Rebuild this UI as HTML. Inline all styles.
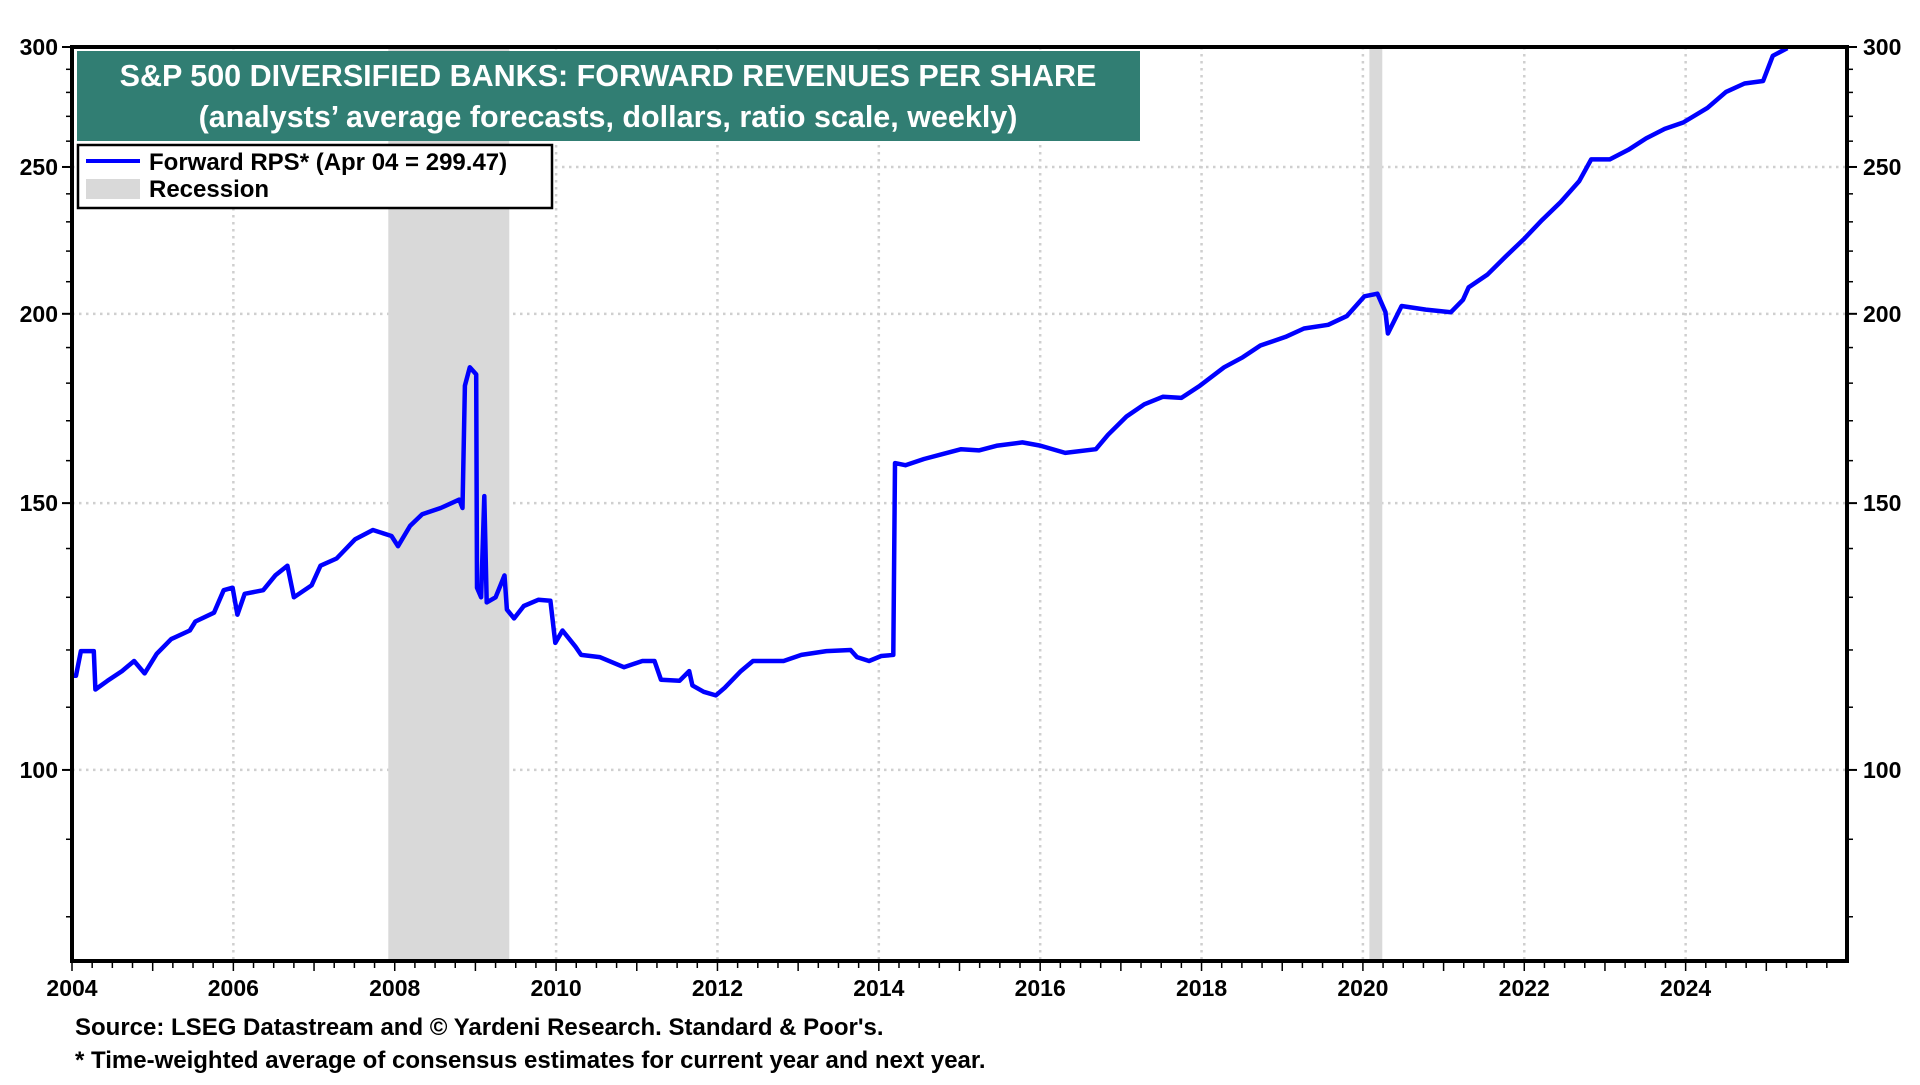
<!DOCTYPE html>
<html><head><meta charset="utf-8">
<style>
html,body{margin:0;padding:0;background:#fff;}
body{width:1920px;height:1080px;overflow:hidden;font-family:"Liberation Sans",Arial,sans-serif;}
svg text{font-family:"Liberation Sans",Arial,sans-serif;font-weight:bold;}
</style></head>
<body>
<svg id="chart" width="1920" height="1080" viewBox="0 0 1920 1080" xmlns="http://www.w3.org/2000/svg">
<g id="grid"></g>
<g id="rec"></g>
<g id="ser"></g>
<rect x="72" y="47" width="1775" height="914" fill="none" stroke="#000" stroke-width="4"/>
<g id="axes"></g>
<rect x="77" y="51" width="1063" height="90" fill="#317e73"/>
<text x="608" y="86" text-anchor="middle" fill="#fff" font-size="30.5">S&amp;P 500 DIVERSIFIED BANKS: FORWARD REVENUES PER SHARE</text>
<text x="608" y="127" text-anchor="middle" fill="#fff" font-size="30.5">(analysts’ average forecasts, dollars, ratio scale, weekly)</text>
<g>
<rect x="78" y="145" width="474" height="63" fill="#fff" stroke="#000" stroke-width="2.5"/>
<line x1="86" y1="161" x2="140" y2="161" stroke="#0000ff" stroke-width="4"/>
<text x="149" y="170" font-size="24">Forward RPS* (Apr 04 = 299.47)</text>
<rect x="86" y="179" width="54" height="20" fill="#d9d9d9"/>
<text x="149" y="197" font-size="24">Recession</text>
</g>
<text x="75" y="1035" font-size="24">Source: LSEG Datastream and © Yardeni Research. Standard &amp; Poor's.</text>
<text x="75" y="1068" font-size="24">* Time-weighted average of consensus estimates for current year and next year.</text>
</svg>
<script>
const years=[2004.0,2004.05,2004.11,2004.27,2004.29,2004.44,2004.62,2004.77,2004.90,2005.05,2005.23,2005.46,2005.53,2005.76,2005.88,2005.99,2006.05,2006.14,2006.37,2006.52,2006.67,2006.75,2006.97,2007.08,2007.28,2007.51,2007.73,2007.96,2008.04,2008.19,2008.34,2008.57,2008.80,2008.84,2008.87,2008.93,2009.01,2009.02,2009.07,2009.11,2009.14,2009.25,2009.36,2009.39,2009.48,2009.60,2009.78,2009.93,2009.99,2010.08,2010.24,2010.31,2010.54,2010.84,2011.07,2011.22,2011.30,2011.53,2011.65,2011.69,2011.83,2011.98,2012.09,2012.29,2012.44,2012.82,2013.04,2013.35,2013.65,2013.73,2013.88,2014.03,2014.18,2014.20,2014.33,2014.56,2014.79,2015.02,2015.24,2015.47,2015.78,2016.00,2016.31,2016.69,2016.84,2017.07,2017.29,2017.52,2017.75,2017.98,2018.28,2018.51,2018.73,2019.04,2019.27,2019.57,2019.80,2020.02,2020.18,2020.28,2020.31,2020.48,2020.78,2021.09,2021.24,2021.31,2021.54,2021.77,2022.00,2022.22,2022.45,2022.68,2022.83,2023.06,2023.29,2023.51,2023.74,2023.97,2024.27,2024.50,2024.73,2024.96,2025.08,2025.26];
const values=[115.4,115.4,119.8,119.8,113.0,114.5,116.2,118.0,115.8,119.3,122.0,123.6,125.3,127.0,131.4,131.9,126.6,130.7,131.4,134.4,136.4,130.0,132.4,136.4,137.9,142.0,144.0,142.7,140.5,144.9,147.5,148.9,150.8,148.9,179.3,184.4,182.4,131.9,130.0,151.6,129.0,130.0,134.4,127.6,125.9,128.3,129.5,129.3,121.3,123.6,120.6,119.1,118.7,116.9,118.0,118.0,114.7,114.5,116.2,113.7,112.6,112.0,113.3,116.2,118.0,118.0,119.1,119.8,120.0,118.7,118.0,118.9,119.1,159.4,158.9,160.4,161.6,162.8,162.5,163.7,164.5,163.7,161.9,162.8,166.4,171.1,174.3,176.3,176.0,179.3,184.4,187.2,190.6,193.1,195.6,196.7,199.3,205.4,206.2,200.5,194.1,202.4,201.3,200.5,204.3,208.2,212.2,218.2,224.2,230.6,237.0,244.6,252.9,252.9,256.6,261.1,264.9,267.5,273.5,280.2,283.8,284.9,296.0,299.5];
const yLabels=[100,150,200,250,300];
const yMinor=[80,90,110,120,130,140,160,170,180,190,210,220,230,240,260,270,280,290];
const xLabels=[2004,2006,2008,2010,2012,2014,2016,2018,2020,2022,2024];
const recStart=[2007.92,2020.08];
const recEnd=[2009.42,2020.24];

const L=72,R=1847,T=47,B=961,X0=2004,X1=2026,YMAX=300,YMIN=74.8;
const xs=v=>L+(v-X0)/(X1-X0)*(R-L);
const ys=v=>T+Math.log(YMAX/v)/Math.log(YMAX/YMIN)*(B-T);
const NS='http://www.w3.org/2000/svg';
function mk(tag,parent,attrs){const e=document.createElementNS(NS,tag);for(const k in attrs)e.setAttribute(k,attrs[k]);parent.appendChild(e);return e;}
const grid=document.getElementById('grid'),axes=document.getElementById('axes'),rec=document.getElementById('rec'),ser=document.getElementById('ser');

yLabels.forEach(v=>{
  const y=ys(v);
  if(v<300){const g=mk('line',grid,{x1:L,x2:R,y1:y,y2:y,stroke:'#cfcfcf','stroke-width':2.5,'stroke-dasharray':'2.5,4.5'});
  
  }
  [[L,-1],[R,1]].forEach(([x,d])=>{
    const t=mk('line',axes,{x1:x,x2:x+d*10,y1:y,y2:y,stroke:'#000','stroke-width':2});
    
    
    const lb=mk('text',axes,{x:d<0?L-14:R+16,y:y+8,'font-size':23,'text-anchor':d<0?'end':'start'});
    lb.textContent=v;
    
    
  });
});
yMinor.forEach(v=>{
  const y=ys(v);
  [[L,-1],[R,1]].forEach(([x,d])=>{
    const t=mk('line',axes,{x1:x,x2:x+d*6,y1:y,y2:y,stroke:'#000','stroke-width':1.5});
    
    
  });
});
xLabels.forEach(v=>{
  const x=xs(v);
  if(v>2004){const g=mk('line',grid,{x1:x,x2:x,y1:T,y2:B,stroke:'#cfcfcf','stroke-width':2.5,'stroke-dasharray':'2.5,4.5'});
  
  }
  const lb=mk('text',axes,{x:x,y:B+35,'font-size':23,'text-anchor':'middle'});
  lb.textContent=v;
  
  
});
for(let q=X0;q<=X1-0.01;q+=0.25){
  const x=xs(q),major=Math.abs(q-Math.round(q))<0.01;
  const t=mk('line',axes,{x1:x,x2:x,y1:B,y2:B+(major?10:7),stroke:'#000','stroke-width':1.5});
  
  
}
recStart.forEach((s,i)=>{
  const r=mk('rect',rec,{x:xs(s),y:T,width:xs(recEnd[i])-xs(s),height:B-T,fill:'#d9d9d9'});
  
  
});
let d='';
years.forEach((yr,i)=>{
  const x=xs(yr).toFixed(1),y=ys(values[i]).toFixed(1);
  d+=(i===0?'M':' L')+x+','+y;
});
const p=mk('path',ser,{d:d,fill:'none',stroke:'#0000ff','stroke-width':4.5,'stroke-linejoin':'round'});


</script>
</body></html>
